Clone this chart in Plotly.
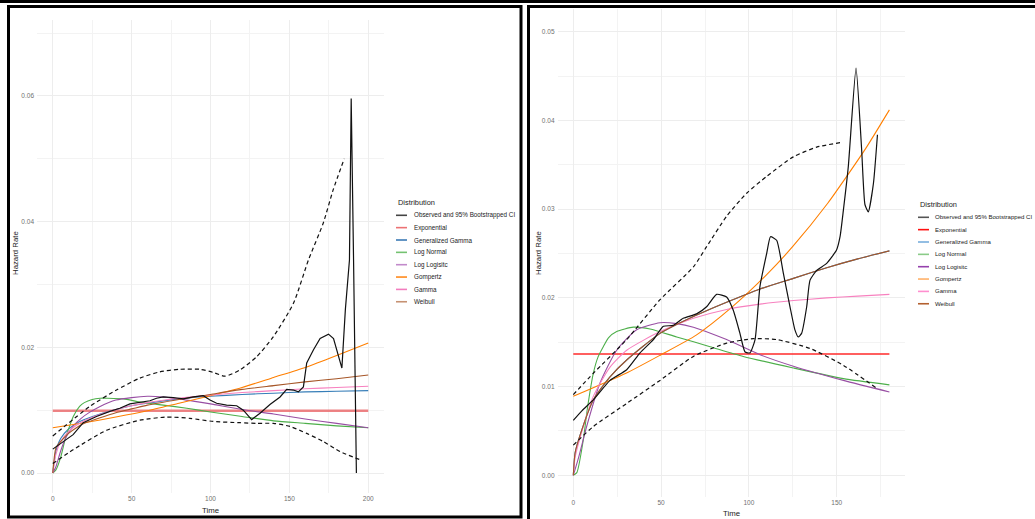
import plotly.graph_objects as go

W, H = 1035, 519

# ---------------- Left panel data ----------------
L_obs_t = [0, 4, 8.7, 12.9, 19.3, 27.7, 36.2, 42.5, 48.9, 55.2, 61.6, 65.8, 70.0, 76.4, 82.7, 89.1,
           95.4, 99.7, 103.9, 110.2, 116.6, 120.8, 126.1, 131.4, 137.7, 144.1, 148.3, 152.6, 155.7,
           158.9, 161.0, 165.3, 169.5, 174.8, 178.0, 183.3, 185.5, 188.1, 189.2, 190.7, 192.5]
L_obs_h = [0.0038, 0.0045, 0.0053, 0.0061, 0.0080, 0.0090, 0.0098, 0.0103, 0.0110, 0.0112, 0.0115,
           0.0119, 0.0121, 0.0120, 0.0118, 0.0121, 0.0123, 0.0116, 0.0111, 0.0108, 0.0107, 0.0100,
           0.0085, 0.0095, 0.0109, 0.0121, 0.0133, 0.0132, 0.0129, 0.0137, 0.0175, 0.0196, 0.0214,
           0.0221, 0.0214, 0.0167, 0.0260, 0.0339, 0.0596, 0.0339, 0.0000]
L_up_t = [0, 23.5, 40.4, 55.2, 67.9, 80.6, 93.3, 101.8, 109.2, 118.7, 129.3, 139.9, 152.6, 162.1,
          171.4, 177.7, 184.8]
L_up_h = [0.0059, 0.0106, 0.0132, 0.0151, 0.0161, 0.0165, 0.0165, 0.0160, 0.0154, 0.0164, 0.0185,
          0.0217, 0.0270, 0.0339, 0.0397, 0.0450, 0.0500]
L_lo_t = [0, 12.9, 34.1, 55.2, 72.1, 86.9, 101.8, 118.7, 129.3, 139.9, 150.5, 161.0, 171.6, 182.2, 194.9]
L_lo_h = [0.0015, 0.0037, 0.0068, 0.0084, 0.0089, 0.0087, 0.0082, 0.0080, 0.0079, 0.0079, 0.0074,
          0.0063, 0.0050, 0.0034, 0.0021]

L_fit_t = [0, 2, 5, 10, 15, 20, 30, 40, 50, 60, 80, 100, 120, 140, 160, 180, 200]
L_exp = [0.0099] * 17
L_gengamma = [0, 0.0035, 0.0055, 0.0070, 0.0079, 0.0085, 0.0094, 0.0101, 0.0107, 0.0111, 0.0118,
              0.0122, 0.0125, 0.0127, 0.0129, 0.0130, 0.0131]
L_gamma = [0, 0.0030, 0.0050, 0.0066, 0.0076, 0.0083, 0.0093, 0.0101, 0.0107, 0.0112, 0.0119,
           0.0124, 0.0128, 0.0131, 0.0134, 0.0136, 0.0138]
L_weibull = [0, 0.0040, 0.0050, 0.0063, 0.0072, 0.0079, 0.0088, 0.0096, 0.0102, 0.0108, 0.0117,
             0.0125, 0.0133, 0.0139, 0.0145, 0.0150, 0.0156]
L_gomp_t = [0, 20, 40, 60, 80, 100, 120, 140, 160, 180, 200]
L_gompertz = [0.0072, 0.0080, 0.0089, 0.0099, 0.0111, 0.0123, 0.0136, 0.0152, 0.0168, 0.0187, 0.0207]
L_ln_t = [0, 2, 5, 8, 10, 13, 17, 20, 25, 30, 35, 45, 55, 70, 85, 100, 120, 140, 160, 180, 200]
L_lognormal = [0, 0.0005, 0.0025, 0.0055, 0.0070, 0.0090, 0.0106, 0.0112, 0.0117, 0.0119, 0.0119,
               0.0118, 0.0113, 0.0108, 0.0103, 0.0097, 0.0090, 0.0083, 0.0079, 0.0075, 0.0072]
L_ll_t = [0, 2, 5, 8, 13, 18, 23, 30, 40, 50, 60, 70, 80, 90, 100, 120, 140, 160, 180, 200]
L_loglogistic = [0, 0.0010, 0.0035, 0.0055, 0.0075, 0.0087, 0.0096, 0.0106, 0.0116, 0.0120, 0.0122,
                 0.0121, 0.0118, 0.0114, 0.0110, 0.0101, 0.0094, 0.0086, 0.0079, 0.0072]

# ---------------- Right panel data ----------------
R_obs_t = [0, 5, 11.4, 20.9, 30.4, 38.0, 45.6, 51.3, 56.9, 62.6, 70.2, 75.9, 81.6, 87.3, 91.1, 94.9,
           97.8, 100.6, 103.5, 106.3, 110.1, 112.3, 115.8, 119.6, 123.4, 126.2, 128.1, 130.0, 132.9,
           134.8, 138.6, 144.3, 149.9, 151.9, 153.8, 156.6, 161.0, 164.2, 166.1, 168.0, 170.9, 173.2]
R_obs_h = [0.0062, 0.0073, 0.0085, 0.0107, 0.0119, 0.0138, 0.0153, 0.0168, 0.0169, 0.0177, 0.0182,
           0.0190, 0.0204, 0.0201, 0.0186, 0.0160, 0.0139, 0.0138, 0.0153, 0.0213, 0.0250, 0.0269,
           0.0265, 0.0228, 0.0190, 0.0164, 0.0156, 0.0160, 0.0190, 0.0220, 0.0231, 0.0239, 0.0254,
           0.0269, 0.0299, 0.0348, 0.0459, 0.0367, 0.0305, 0.0297, 0.0329, 0.0384]
R_up_t = [0, 11.4, 30.4, 49.4, 68.4, 76.0, 87.3, 98.7, 110.1, 125.3, 138.6, 151.9]
R_up_h = [0.0091, 0.0115, 0.0153, 0.0198, 0.0235, 0.0258, 0.0292, 0.0318, 0.0337, 0.0359, 0.0370, 0.0375]
R_lo_t = [0, 11.4, 30.4, 49.4, 68.4, 87.3, 102.5, 115.8, 134.8, 153.8, 172.8]
R_lo_h = [0.0034, 0.0055, 0.0081, 0.0107, 0.0134, 0.0149, 0.0154, 0.0153, 0.0143, 0.0124, 0.0098]

R_exp_t = [0, 180]
R_exp = [0.01368, 0.01368]
R_gomp_t = [0, 30, 50, 70, 90, 110, 125, 145, 155, 167, 180]
R_gompertz = [0.0089, 0.0115, 0.0136, 0.0158, 0.0189, 0.0226, 0.0258, 0.0307, 0.0335, 0.0370, 0.0412]
R_wb_t = [0, 1, 3.8, 11.4, 20.9, 30.4, 49.4, 68.4, 87.3, 106.3, 125.3, 144.3, 162, 180]
R_weibull = [0, 0.0025, 0.0045, 0.0085, 0.0111, 0.0130, 0.0160, 0.0179, 0.0195, 0.0210, 0.0222,
             0.0234, 0.0244, 0.0253]
R_gengamma = [0, 0.0025, 0.0045, 0.0085, 0.0111, 0.0130, 0.0160, 0.0179, 0.0195, 0.0210, 0.0222,
              0.0234, 0.0244, 0.0253]
R_gm_t = [0, 1, 5.7, 11.4, 20.9, 30.4, 49.4, 68.4, 87.3, 106.3, 125.3, 144.3, 162, 180]
R_gamma = [0, 0.0020, 0.0055, 0.0089, 0.0122, 0.0141, 0.0162, 0.0177, 0.0187, 0.0193, 0.0197,
           0.0200, 0.0202, 0.0204]
R_ln_t = [0, 2, 5.7, 8, 11.4, 14, 17.1, 20, 24.7, 34.2, 43.7, 58.9, 77.9, 96.8, 125.3, 153.8, 180]
R_lognormal = [0, 0.0003, 0.0040, 0.0075, 0.0115, 0.0133, 0.0145, 0.0155, 0.0162, 0.0167, 0.0165,
               0.0156, 0.0145, 0.0134, 0.0121, 0.0109, 0.0102]
R_ll_t = [0, 3, 7.6, 15.2, 24.7, 36.1, 49.4, 58.9, 68.4, 87.3, 106.3, 125.3, 153.8, 180]
R_loglogistic = [0, 0.0020, 0.0055, 0.0104, 0.0141, 0.0164, 0.0172, 0.0171, 0.0167, 0.0153, 0.0136,
                 0.0123, 0.0107, 0.0094]

legend_labels = ["Observed and 95% Bootstrapped CI", "Exponential", "Generalized Gamma", "Log Normal",
                 "Log Logisitc", "Gompertz", "Gamma", "Weibull"]
L_key_colors = ["#444444", "#EC7274", "#3C7BB6", "#74C271", "#C28ACB", "#FF8A1C", "#F27DBE", "#C69273"]
R_key_colors = ["#555555", "#FF1010", "#79AEDC", "#8ACB88", "#9541AC", "#FFB169", "#FF8FCF", "#B3602F"]

C_BLUE, C_GREEN, C_PURPLE = "#377EB8", "#4DAF4A", "#984EA3"
C_ORANGE, C_PINK, C_BROWN = "#FF7F00", "#F781BF", "#A65628"

FONT = "Liberation Sans, Arial, sans-serif"


def fx(p):
    return p / W


def fy(p):
    return 1 - p / H


fig = go.Figure()


def add(x, y, color, width, ax, dash=None, shape="spline", smoothing=0.6):
    line = dict(color=color, width=width, shape=shape)
    if shape == "spline":
        line["smoothing"] = smoothing
    if dash:
        line["dash"] = dash
    fig.add_trace(go.Scatter(x=x, y=y, mode="lines", line=line, xaxis="x" + ax, yaxis="y" + ax,
                             showlegend=False, hoverinfo="skip"))


# Left panel traces
add(L_fit_t, L_exp, "rgba(232,90,92,0.75)", 2.6, "", shape="linear")
add(L_fit_t, L_gengamma, C_BLUE, 1.1, "")
add(L_ln_t, L_lognormal, C_GREEN, 1.1, "")
add(L_ll_t, L_loglogistic, C_PURPLE, 1.1, "")
add(L_gomp_t, L_gompertz, C_ORANGE, 1.1, "")
add(L_fit_t, L_gamma, C_PINK, 1.1, "")
add(L_fit_t, L_weibull, C_BROWN, 1.1, "")
add(L_up_t, L_up_h, "#111111", 1.2, "", dash="4px,3px")
add(L_lo_t, L_lo_h, "#111111", 1.2, "", dash="4px,3px")
add(L_obs_t, L_obs_h, "#111111", 1.2, "", shape="linear")

# Right panel traces
add(R_exp_t, R_exp, "#FF2A2A", 1.4, "2", shape="linear")
add(R_wb_t, R_gengamma, C_BLUE, 1.1, "2")
add(R_ln_t, R_lognormal, C_GREEN, 1.1, "2")
add(R_ll_t, R_loglogistic, C_PURPLE, 1.1, "2")
add(R_gomp_t, R_gompertz, C_ORANGE, 1.1, "2")
add(R_gm_t, R_gamma, C_PINK, 1.1, "2")
add(R_wb_t, R_weibull, C_BROWN, 1.1, "2")
add(R_up_t, R_up_h, "#111111", 1.2, "2", dash="4px,3px")
add(R_lo_t, R_lo_h, "#111111", 1.2, "2", dash="4px,3px")
add(R_obs_t, R_obs_h, "#111111", 1.2, "2", smoothing=0.5)

GRID = "#EDEDED"
tickfont = dict(family=FONT, size=6.5, color="#707070")


def xaxis(dom, rng, dtick):
    return dict(domain=dom, range=rng, tick0=0, dtick=dtick, showgrid=True, gridcolor=GRID,
                gridwidth=1, zeroline=False, showline=False, ticks="", tickfont=tickfont,
                minor=dict(dtick=dtick / 2, tick0=0, showgrid=True, gridcolor="#F3F3F3", gridwidth=0.8),
                fixedrange=True)


def yaxis(dom, rng, dtick, fmt, anchor):
    return dict(domain=dom, range=rng, tick0=0, dtick=dtick, showgrid=True, gridcolor=GRID,
                gridwidth=1, zeroline=False, showline=False, ticks="", tickfont=tickfont,
                tickformat=fmt, anchor=anchor, ticklabelstandoff=2,
                minor=dict(dtick=dtick / 2, tick0=0, showgrid=True, gridcolor="#F3F3F3", gridwidth=0.8),
                fixedrange=True)


# Left panel geometry (pixels)
L_x0, L_x1, L_top, L_bot = 37, 384, 20, 493
L_zero, L_per = 473, 6285.0  # px per unit hazard
L_yr = [-(L_bot - L_zero) / L_per, (L_zero - L_top) / L_per]
# Right panel geometry
R_x0, R_x1, R_top, R_bot = 557.5, 905.2, 9, 497
R_zero, R_per = 475.3, 8870.0
R_yr = [-(R_bot - R_zero) / R_per, (R_zero - R_top) / R_per]

fig.update_layout(
    width=W, height=H, margin=dict(l=0, r=0, t=0, b=0),
    paper_bgcolor="white", plot_bgcolor="white", showlegend=False,
    xaxis=xaxis([fx(L_x0), fx(L_x1)], [-10, 210], 50),
    yaxis=yaxis([fy(L_bot), fy(L_top)], L_yr, 0.02, ".2f", "x"),
    xaxis2=xaxis([fx(R_x0), fx(R_x1)], [-9, 189], 50),
    yaxis2=yaxis([fy(R_bot), fy(R_top)], R_yr, 0.01, ".2f", "x2"),
)
fig.layout.xaxis2.anchor = "y2"
fig.layout.xaxis.anchor = "y"

shapes = []
annotations = []

# borders
shapes.append(dict(type="line", xref="paper", yref="paper", x0=0, x1=1, y0=fy(1.5), y1=fy(1.5),
                   line=dict(color="black", width=3)))
shapes.append(dict(type="rect", xref="paper", yref="paper", x0=fx(8.5), x1=fx(521), y0=fy(517), y1=fy(6.5),
                   line=dict(color="black", width=3)))
shapes.append(dict(type="rect", xref="paper", yref="paper", x0=fx(528.5), x1=fx(1045), y0=fy(530), y1=fy(6.5),
                   line=dict(color="black", width=3)))

# axis titles
for (xc, yc) in [((L_x0 + L_x1) / 2, 510), ((R_x0 + R_x1) / 2, 513)]:
    annotations.append(dict(text="Time", x=fx(xc), y=fy(yc), xref="paper", yref="paper",
                            showarrow=False, xanchor="center", yanchor="middle",
                            font=dict(family=FONT, size=7.8, color="#222222")))
for (xc, yc) in [(15, 253), (538, 253)]:
    annotations.append(dict(text="Hazard Rate", x=fx(xc), y=fy(yc), xref="paper", yref="paper",
                            showarrow=False, xanchor="center", yanchor="middle", textangle=-90,
                            font=dict(family=FONT, size=7.8, color="#222222")))


# legends (drawn manually to match ggplot spacing)
def legend(x_title, y_title, y_first, key_x0, key_x1, text_x, colors, size):
    annotations.append(dict(text="Distribution", x=fx(x_title), y=fy(y_title), xref="paper",
                            yref="paper", showarrow=False, xanchor="left", yanchor="middle",
                            font=dict(family=FONT, size=7.4, color="#222222")))
    for i, (lab, col) in enumerate(zip(legend_labels, colors)):
        yy = y_first + i * 12.35
        shapes.append(dict(type="line", xref="paper", yref="paper", x0=fx(key_x0), x1=fx(key_x1),
                           y0=fy(yy), y1=fy(yy), line=dict(color=col, width=1.6)))
        annotations.append(dict(text=lab, x=fx(text_x), y=fy(yy), xref="paper", yref="paper",
                                showarrow=False, xanchor="left", yanchor="middle",
                                font=dict(family=FONT, size=size, color="#222222")))


legend(395.5, 202, 215.3, 396, 407, 411.5, L_key_colors, 6.3)
legend(917.5, 204, 217.3, 918, 929, 933, R_key_colors, 6.05)

fig.update_layout(shapes=shapes, annotations=annotations)
fig.write_html("out.html", config={"displayModeBar": False},
               post_script="document.body.style.margin='0';document.body.style.padding='0';")
